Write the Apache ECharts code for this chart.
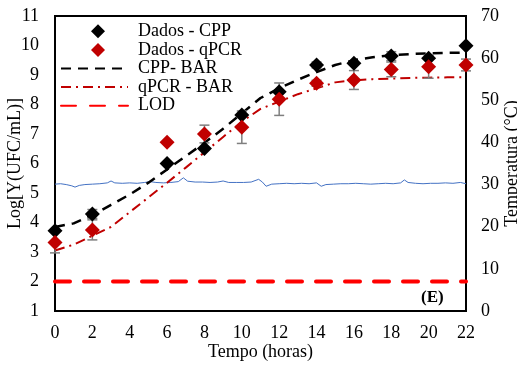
<!DOCTYPE html>
<html>
<head>
<meta charset="utf-8">
<script src="https://cdn.jsdelivr.net/npm/echarts@6/dist/echarts.min.js"></script>
<style>html,body{margin:0;padding:0;background:#fff}#c{width:517px;height:366px}</style>
</head>
<body>
<div id="c"></div>
<script>
var hours = [0, 2, 6, 8, 10, 12, 14, 16, 18, 20, 22];
var cppData = [3.72, 4.29, 6.0, 6.51, 7.64, 8.43, 9.34, 9.4, 9.64, 9.57, 9.99];
var cppErr = [0, 0.15, 0, 0, 0, 0, 0.1, 0, 0.15, 0, 0];
var qpcrData = [3.32, 3.75, 6.72, 7.0, 7.23, 8.18, 8.72, 8.83, 9.19, 9.28, 9.34];
var qpcrErr = [0.35, 0.34, 0, 0.3, 0.55, 0.55, 0.1, 0.32, 0.25, 0.39, 0.2];
var modelHours = [0,1,2,3,4,5,6,7,8,9,10,11,12,13,14,15,16,17,18,19,20,21,22];
var cppBar = [3.85,3.97,4.25,4.6,4.95,5.35,5.8,6.25,6.7,7.18,7.7,8.22,8.55,8.84,9.1,9.34,9.5,9.6,9.67,9.71,9.73,9.75,9.76];
var qpcrBar = [3.05,3.25,3.55,3.85,4.35,4.85,5.35,5.86,6.38,6.9,7.42,7.85,8.1,8.35,8.55,8.75,8.82,8.86,8.88,8.9,8.91,8.92,8.92];
var lodHours = [0, 22];
var lodValue = [2, 2];
var tempHours = [0,0.3,0.6,0.9,1.07,1.3,1.6,2.0,2.4,2.8,3.0,3.2,3.6,4.0,4.4,4.8,5.1,5.4,5.8,6.2,6.6,6.87,7.1,7.5,7.9,8.3,8.7,9.0,9.3,9.7,10.1,10.5,10.9,11.1,11.3,11.6,12.0,12.4,12.8,13.2,13.6,14.0,14.1,14.25,14.5,14.9,15.3,15.7,16.1,16.5,16.9,17.3,17.7,18.1,18.5,18.7,18.9,19.3,19.7,20.1,20.5,20.9,21.3,21.7,22];
var tempValues = [30.1,30.2,30.0,29.7,29.4,29.8,30.0,30.1,30.2,30.4,30.85,30.4,30.3,30.4,30.3,30.5,30.7,30.5,30.4,30.5,30.7,31.6,30.8,30.6,30.6,30.5,30.6,30.85,30.5,30.5,30.5,30.6,31.25,30.6,29.6,30.1,30.2,30.3,30.2,30.3,30.2,30.4,30.6,29.6,30.0,30.1,30.2,30.2,30.3,30.2,30.1,30.2,30.3,30.2,30.4,31.1,30.5,30.3,30.2,30.3,30.3,30.4,30.3,30.5,30.2];
var xTicks = {min: 0, max: 22, interval: 2};
var yTicks = {min: 1, max: 11, interval: 1};
var y2Ticks = {min: 0, max: 70, interval: 10};

function zip(a, b, c) {
  return a.map(function (v, i) { return c ? [v, b[i], c[i]] : [v, b[i]]; });
}
var FONT = "'Liberation Serif', 'Times New Roman', serif";
// legend diamond in a 67x14 box (invisible moveTo points fix the box extent)
var DIAMOND_ICON = 'path://M0,0M67,14M37,0L44,7L37,14L30,7Z';
var chart = echarts.init(document.getElementById('c'));

function errRender(params, api) {
  var x = api.value(0), y = api.value(1), e = api.value(2);
  if (!e) return;
  var top = api.coord([x, y + e]);
  var bot = api.coord([x, y - e]);
  var hw = 5;
  var st = {stroke: '#7f7f7f', lineWidth: 1.5};
  return {
    type: 'group',
    children: [
      {type: 'line', shape: {x1: top[0], y1: top[1], x2: bot[0], y2: bot[1]}, style: st},
      {type: 'line', shape: {x1: top[0] - hw, y1: top[1], x2: top[0] + hw, y2: top[1]}, style: st},
      {type: 'line', shape: {x1: bot[0] - hw, y1: bot[1], x2: bot[0] + hw, y2: bot[1]}, style: st}
    ]
  };
}

chart.setOption({
  animation: false,
  backgroundColor: '#fff',
  textStyle: {fontFamily: FONT},
  title: {
    text: '(E)', left: 421, top: 289, padding: 0,
    textStyle: {fontFamily: FONT, fontWeight: 'bold', fontSize: 17, color: '#000'}
  },
  grid: {left: 55, right: 51, top: 16, bottom: 55, outerBoundsMode: 'none', containLabel: false,
    show: true, borderColor: '#000', borderWidth: 2, backgroundColor: 'transparent'},
  legend: {
    orient: 'vertical', left: 60, top: 22, padding: 0, itemGap: 0,
    itemWidth: 67, itemHeight: 14,
    textStyle: {fontFamily: FONT, fontSize: 18, color: '#000', lineHeight: 18.6, padding: [0, 0, 0, 5]},
    data: [
      {name: 'Dados - CPP', icon: DIAMOND_ICON},
      {name: 'Dados - qPCR', icon: DIAMOND_ICON},
      {name: 'CPP- BAR', itemStyle: {opacity: 0}},
      {name: 'qPCR - BAR', itemStyle: {opacity: 0}},
      {name: 'LOD', itemStyle: {opacity: 0}}
    ]
  },
  xAxis: {
    type: 'value', min: xTicks.min, max: xTicks.max, interval: xTicks.interval,
    name: 'Tempo (horas)', nameLocation: 'middle', nameGap: 32, nameMoveOverlap: false,
    nameTextStyle: {fontFamily: FONT, fontSize: 18, color: '#000'},
    axisLine: {lineStyle: {color: '#000', width: 2}},
    axisTick: {show: false}, splitLine: {show: false},
    axisLabel: {fontFamily: FONT, fontSize: 18, color: '#000', margin: 13}
  },
  yAxis: [
    {
      type: 'value', min: yTicks.min, max: yTicks.max, interval: yTicks.interval,
      name: 'Log[Y(UFC/mL)]', nameLocation: 'middle', nameGap: 31, nameRotate: 90, nameMoveOverlap: false,
      nameTextStyle: {fontFamily: FONT, fontSize: 18, color: '#000'},
      axisLine: {show: true, lineStyle: {color: '#000', width: 2}},
      axisTick: {show: false}, splitLine: {show: false},
      axisLabel: {fontFamily: FONT, fontSize: 18, color: '#000', margin: 16}
    },
    {
      type: 'value', min: y2Ticks.min, max: y2Ticks.max, interval: y2Ticks.interval, position: 'right',
      name: 'Temperatura (°C)', nameLocation: 'middle', nameGap: 37, nameRotate: 90, nameMoveOverlap: false,
      nameTextStyle: {fontFamily: FONT, fontSize: 18, color: '#000'},
      axisLine: {show: true, lineStyle: {color: '#000', width: 2}},
      axisTick: {show: false}, splitLine: {show: false},
      axisLabel: {fontFamily: FONT, fontSize: 18, color: '#000', margin: 15}
    }
  ],
  series: [
    {
      name: 'Temperatura', type: 'line', yAxisIndex: 1, symbol: 'none',
      data: zip(tempHours, tempValues),
      lineStyle: {color: '#4472C4', width: 1}, z: 1
    },
    {
      name: 'LOD', type: 'line', symbol: 'none', data: zip(lodHours, lodValue),
      itemStyle: {color: '#FF0000'},
      lineStyle: {color: '#FF0000', width: 4, type: [15, 14], cap: 'round'}, z: 2
    },
    {
      name: 'CPP- BAR', type: 'line', symbol: 'none', data: zip(modelHours, cppBar),
      itemStyle: {color: '#000'},
      lineStyle: {color: '#000', width: 2.5, type: [10, 7]}, z: 3
    },
    {
      name: 'qPCR - BAR', type: 'line', symbol: 'none', data: zip(modelHours, qpcrBar),
      itemStyle: {color: '#C00000'},
      lineStyle: {color: '#C00000', width: 2, type: [10, 5, 2, 5]}, z: 3
    },
    {
      name: 'errCPP', type: 'custom', renderItem: errRender, data: zip(hours, cppData, cppErr), z: 4
    },
    {
      name: 'errQPCR', type: 'custom', renderItem: errRender, data: zip(hours, qpcrData, qpcrErr), z: 4
    },
    {
      name: 'Dados - CPP', type: 'scatter', symbol: 'diamond', symbolSize: 15,
      data: zip(hours, cppData), itemStyle: {color: '#000', opacity: 1}, z: 5
    },
    {
      name: 'Dados - qPCR', type: 'scatter', symbol: 'diamond', symbolSize: 15,
      data: zip(hours, qpcrData), itemStyle: {color: '#C00000', opacity: 1}, z: 6
    }
  ]
});
</script>
</body>
</html>
